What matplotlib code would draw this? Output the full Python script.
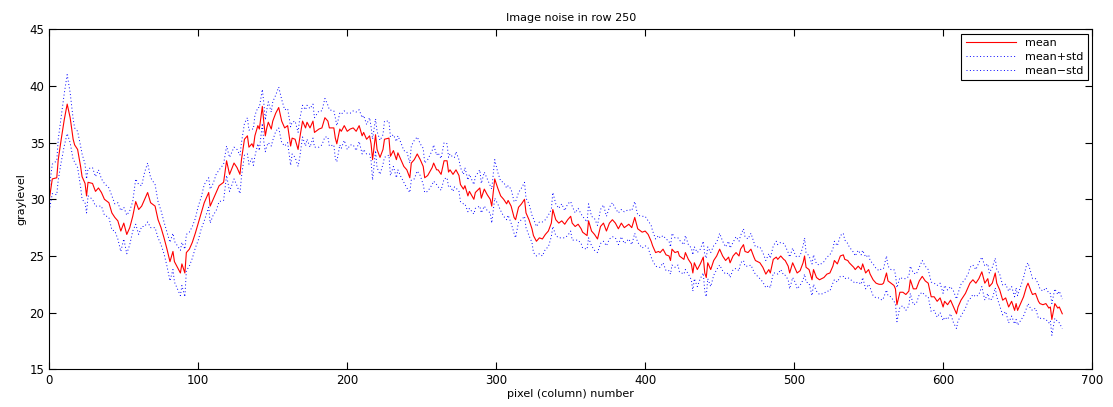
import matplotlib.pyplot as plt
import numpy as np

# pixel columns, with the mean and std at each one
col = [0, 2, 5, 6, 8, 10, 12, 14, 16, 17,
       19, 21, 22, 24, 25, 26, 29, 31, 33, 35,
       37, 40, 42, 44, 46, 48, 50, 52, 54, 56,
       58, 60, 62, 64, 66, 68, 71, 73, 75, 77,
       79, 81, 83, 84, 88, 89, 91, 92, 94, 96,
       98, 100, 102, 104, 107, 108, 110, 112,
       114, 117, 119, 121, 124, 126, 128, 129, 131, 133,
       134, 136, 137, 138, 140, 141, 143, 144, 145, 146,
       147, 149, 150, 152, 154, 156, 158, 160, 162, 163,
       165, 167, 168, 170, 172, 173, 175, 177, 178, 181,
       183, 185, 187, 188, 191, 192, 193, 195, 196, 198,
       200, 202, 204, 206, 208, 210, 211, 213, 215, 216,
       217, 219, 220, 222, 224, 225, 228, 229, 231, 233,
       234,
       236, 238, 240, 242, 243, 245, 247, 249, 251, 252,
       254, 257, 258, 260, 261, 263, 265, 267, 268, 269,
       271, 272, 273, 275, 276, 278, 279, 281, 282, 285,
       286, 289, 290, 292, 294, 296, 297, 299, 301, 303,
       305, 307, 308, 310, 312, 313, 315, 317, 319, 320,
       322, 324, 325, 327, 329, 331, 333, 335, 337, 338,
       340, 342, 344, 346, 348, 350, 351, 353, 355,
       357, 358, 361, 362, 364, 366, 368, 370, 372, 374,
       376, 378, 380, 382, 384, 386, 389, 391, 393, 395,
       398, 400, 402, 404, 405, 407, 409, 410, 412, 414,
       416, 417, 418, 420, 422, 423, 426, 427, 429, 431,
       432, 433, 435, 437, 439, 440, 441, 442, 444, 446,
       448, 450, 452, 454, 456, 457, 459, 461, 463, 464,
       466, 467, 469, 471, 473, 474, 477,
       479, 481, 483, 484, 486, 488, 489, 491, 493, 494,
       496, 497, 499, 501, 502, 504, 506, 507, 508, 510,
       512, 513, 515, 517, 520, 522, 524, 526, 527, 529,
       531, 533, 534, 536, 537, 540, 541, 543, 545, 546,
       548, 550, 551, 553, 555, 557, 559, 560, 562, 563,
       565, 567, 568, 569, 571, 573, 575, 577, 578, 580,
       582, 584, 586, 588, 590,
       592, 594, 596, 598, 600, 601, 603, 605, 607, 609,
       610, 612, 615, 617, 618, 620, 622, 624, 626, 628,
       630, 631, 633, 635, 636, 638, 640, 642, 644, 646,
       648, 649, 650, 652, 654, 656, 657, 659, 660, 662,
       664, 665, 667, 669, 671, 672, 673, 675, 677, 678,
       680]

mean = [30.0, 31.8, 31.9, 33.5, 35.3, 37.0, 38.4, 37.2, 35.3, 34.8,
        34.4, 32.9, 32.0, 31.4, 30.3, 31.5, 31.4, 30.7, 31.0, 30.6,
        30.0, 29.7, 28.8, 28.4, 28.1, 27.2, 27.9, 26.9, 27.5, 28.5,
        29.8, 29.1, 29.4, 30.0, 30.6, 29.7, 29.4, 28.2, 27.5, 26.6,
        25.6, 24.5, 25.4, 24.5, 23.5, 24.3, 23.5, 25.3, 25.6, 26.2,
        27.0, 27.9, 28.8, 29.7, 30.6, 29.4, 30.0, 30.6,
        31.2, 31.5, 33.4, 32.2, 33.2, 32.8, 32.2, 33.5, 35.3, 35.6,
        34.6, 34.9, 34.6, 35.6, 36.5, 36.2, 38.2, 36.8, 35.6, 36.3,
        36.8, 36.2, 36.9, 37.6, 38.1, 36.9, 36.3, 36.5, 34.7, 35.4,
        35.3, 34.4, 35.3, 36.9, 36.3, 36.8, 36.3, 36.9, 35.9, 36.2,
        36.3, 37.2, 36.9, 36.3, 36.3, 35.4, 34.9, 36.2, 36.0, 36.5,
        36.0, 36.2, 36.3, 36.0, 36.5, 35.6, 35.9, 35.3, 35.6, 34.9,
        33.5, 35.7, 34.4, 33.7, 34.4, 35.3, 35.4, 33.8, 34.3, 33.5,
        34.1,
        33.5, 32.9, 32.6, 31.9, 33.2, 33.5, 34.0, 33.5, 32.9, 31.9,
        32.1, 32.8, 33.2, 32.6, 32.6, 32.2, 33.4, 33.4, 32.4, 32.6,
        32.2, 32.4, 32.6, 32.1, 31.3, 30.9, 31.2, 30.3, 30.7, 30.0,
        30.6, 31.0, 30.1, 30.9, 30.4, 30.0, 29.4, 31.8, 31.0, 30.3,
        30.0, 29.6, 29.9, 29.4, 28.4, 28.2, 29.3, 29.6, 30.0, 28.8,
        28.2, 27.4, 26.8, 26.3, 26.6, 26.5, 26.9, 27.2, 27.9, 29.1,
        28.2, 27.9, 28.1, 27.8, 28.2, 28.5, 27.9, 27.6, 27.8,
        27.4, 27.1, 26.8, 28.1, 27.2, 26.9, 26.5, 27.6, 27.9, 27.2,
        27.9, 28.2, 27.9, 27.4, 27.9, 27.5, 27.8, 27.5, 28.4, 27.4,
        27.1, 27.2, 26.9, 26.3, 25.9, 25.3, 25.4, 25.3, 25.6, 25.1,
        25.0, 24.6, 25.6, 25.3, 25.4, 25.0, 24.7, 25.3, 24.7, 24.3,
        23.5, 24.4, 23.8, 24.3, 24.9, 23.5, 23.1, 24.4, 23.8, 24.6,
        25.0, 25.6, 25.0, 24.6, 24.9, 24.4, 25.0, 25.3, 25.0, 25.6,
        26.0, 25.4, 25.3, 25.6, 24.9, 24.6, 24.4,
        24.0, 23.4, 23.8, 23.5, 24.7, 24.9, 24.7, 25.0, 24.7, 24.6,
        24.1, 23.5, 24.4, 23.8, 23.5, 23.7, 24.4, 25.0, 24.0, 23.8,
        22.9, 23.8, 23.1, 22.9, 23.1, 23.4, 23.5, 24.1, 24.6, 24.3,
        25.0, 25.1, 24.7, 24.6, 24.4, 24.0, 23.8, 24.1, 23.8, 24.3,
        23.5, 23.8, 23.4, 22.9, 22.6, 22.5, 22.5, 22.6, 23.5, 22.8,
        22.6, 22.4, 22.1, 20.7, 21.8, 21.8, 21.6, 21.9, 22.9, 22.1,
        22.1, 22.8, 23.2, 22.8, 22.6,
        21.4, 21.4, 21.0, 21.3, 20.5, 21.0, 20.7, 21.1, 20.5, 19.9,
        20.5, 21.1, 21.7, 22.3, 22.6, 22.9, 22.6, 23.0, 23.6, 22.6,
        23.0, 22.3, 22.6, 23.5, 22.6, 22.0, 21.1, 21.3, 20.5, 21.0,
        20.2, 20.8, 20.2, 20.8, 21.4, 22.3, 22.6, 21.9, 21.6, 21.7,
        21.0, 20.8, 20.7, 20.8, 20.4, 20.5, 19.4, 20.8, 20.4, 20.5,
        19.9]

std = [1.0, 1.3, 1.5, 1.8, 2.0, 2.3, 2.6, 2.2, 1.8, 1.5,
       1.6, 1.8, 2.0, 1.7, 1.5, 1.2, 1.4, 1.3, 1.6, 1.2,
       1.4, 1.3, 1.5, 1.2, 1.6, 1.8, 1.4, 1.7, 1.5, 1.3,
       2.0, 2.2, 1.8, 2.4, 2.6, 2.2, 1.9, 1.6, 1.5, 1.4,
       1.5, 1.7, 1.6, 1.8, 2.0, 1.9, 2.1, 1.6, 1.5, 1.4,
       1.3, 1.5, 1.4, 1.6, 1.3, 1.5, 1.4, 1.6,
       1.4, 1.6, 1.3, 1.5, 1.4, 1.6, 1.7, 1.5, 1.4, 1.6,
       1.5, 1.3, 1.6, 1.8, 1.6, 1.9, 1.5, 1.7, 1.4, 1.6,
       1.8, 1.5, 1.7, 1.6, 1.8, 1.9, 1.6, 1.5, 1.7, 1.4,
       1.6, 1.5, 1.7, 1.4, 1.6, 1.5, 1.7, 1.5, 1.3, 1.6,
       1.5, 1.7, 1.4, 1.6, 1.5, 1.8, 1.6, 1.4, 1.5, 1.3,
       1.6, 1.4, 1.5, 1.7, 1.4, 1.6, 1.5, 1.3, 1.6, 1.5,
       1.8, 1.4, 1.6, 1.5, 1.3, 1.6, 1.5, 1.7, 1.4, 1.6,
       1.5,
       1.5, 1.4, 1.6, 1.3, 1.5, 1.7, 1.5, 1.4, 1.6, 1.3,
       1.4, 1.5, 1.6, 1.3, 1.5, 1.4, 1.6, 1.5, 1.3, 1.4,
       1.5, 1.3, 1.6, 1.4, 1.5, 1.3, 1.6, 1.4, 1.5, 1.3,
       1.4, 1.6, 1.3, 1.5, 1.4, 1.2, 1.5, 1.7, 1.4, 1.3,
       1.5, 1.4, 1.3, 1.5, 1.4, 1.6, 1.3, 1.4, 1.5, 1.3,
       1.4, 1.2, 1.5, 1.3, 1.4, 1.5, 1.3, 1.4, 1.2, 1.5,
       1.4, 1.3, 1.5, 1.2, 1.4, 1.3, 1.5, 1.2, 1.4,
       1.3, 1.4, 1.2, 1.5, 1.3, 1.4, 1.2, 1.5, 1.6, 1.3,
       1.4, 1.5, 1.3, 1.4, 1.2, 1.4, 1.3, 1.5, 1.4, 1.2,
       1.4, 1.3, 1.2, 1.4, 1.3, 1.2, 1.4, 1.3, 1.2, 1.4,
       1.3, 1.2, 1.4, 1.3, 1.2, 1.4, 1.3, 1.5, 1.3, 1.4,
       1.6, 1.4, 1.5, 1.3, 1.4, 1.6, 1.7, 1.4, 1.5, 1.3,
       1.2, 1.4, 1.3, 1.2, 1.4, 1.3, 1.2, 1.4, 1.3, 1.2,
       1.4, 1.3, 1.2, 1.4, 1.3, 1.2, 1.4,
       1.3, 1.2, 1.4, 1.3, 1.2, 1.4, 1.3, 1.2, 1.4, 1.3,
       1.2, 1.4, 1.3, 1.2, 1.4, 1.3, 1.5, 1.6, 1.3, 1.2,
       1.4, 1.3, 1.2, 1.3, 1.4, 1.5, 1.6, 1.5, 1.7, 1.6,
       1.8, 1.9, 1.7, 1.5, 1.4, 1.3, 1.2, 1.4, 1.3, 1.2,
       1.4, 1.3, 1.2, 1.4, 1.3, 1.2, 1.4, 1.3, 1.5, 1.3,
       1.2, 1.4, 1.3, 1.5, 1.3, 1.2, 1.4, 1.3, 1.2, 1.4,
       1.3, 1.2, 1.4, 1.3, 1.2,
       1.3, 1.2, 1.4, 1.3, 1.2, 1.4, 1.3, 1.2, 1.4, 1.3,
       1.2, 1.4, 1.3, 1.2, 1.4, 1.3, 1.2, 1.4, 1.3, 1.5,
       1.3, 1.2, 1.4, 1.3, 1.2, 1.4, 1.3, 1.2, 1.4, 1.3,
       1.2, 1.4, 1.3, 1.5, 1.7, 1.9, 1.8, 1.6, 1.4, 1.3,
       1.5, 1.3, 1.2, 1.4, 1.3, 1.2, 1.4, 1.3, 1.2, 1.4,
       1.3]

col = np.array(col)
mean = np.array(mean)
std = np.array(std)

fig = plt.figure(figsize=(11.13, 4.07), dpi=100)
ax = fig.add_axes([0.0443, 0.0926, 0.9369, 0.8354])

ax.plot(col, mean, color='red', lw=0.8, label='mean')
ax.plot(col, mean + std, color='blue', ls=(0, (1, 2.5)), lw=0.7, label='mean+std')
ax.plot(col, mean - std, color='blue', ls=(0, (1, 2.5)), lw=0.7, label='mean\u2212std')

ax.set_xlim(0, 700)
ax.set_ylim(15, 45)
ax.set_xticks(range(0, 701, 100))
ax.set_yticks(range(15, 46, 5))
ax.tick_params(direction='in', top=True, right=True, labelsize=8.5, length=5)
for s in ax.spines.values():
    s.set_linewidth(0.8)

ax.set_title('Image noise in row 250', fontsize=8)
ax.set_xlabel('pixel (column) number', fontsize=8, labelpad=1)
ax.set_ylabel('graylevel', fontsize=8, labelpad=2)

leg = ax.legend(loc='upper right', fontsize=8, fancybox=False, framealpha=1,
                edgecolor='black', handlelength=4.5, borderpad=0.4,
                labelspacing=0.35, borderaxespad=0.4)
leg.get_frame().set_linewidth(0.8)

plt.savefig('out.png', dpi=100)
